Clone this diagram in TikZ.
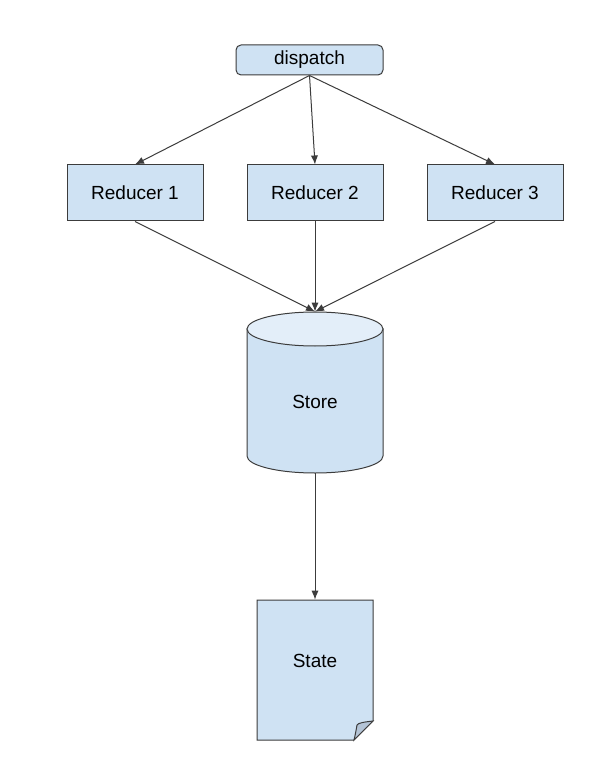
\documentclass[tikz,border=0pt]{standalone}
\usepackage{fontspec}
\setmainfont{Liberation Sans}
\usetikzlibrary{calc,arrows.meta}
\definecolor{boxBlue}{HTML}{CFE2F3}
\definecolor{capBlue}{HTML}{E3EEF9}
\definecolor{foldBlue}{HTML}{B4C4D6}
\definecolor{edgeGray}{HTML}{3C3C3C}

\tikzset{
  flowbox/.style={draw=edgeGray,fill=boxBlue,line width=0.5pt,minimum width=68pt,minimum height=28pt,inner sep=0pt,font=\fontsize{9.5}{11}\selectfont},
  flowarrow/.style={draw=edgeGray,line width=0.5pt,-{Latex[length=4.5pt,width=3.6pt]}}
}

\begin{document}
\begin{tikzpicture}[x=0.5pt,y=-0.5pt]
\useasboundingbox[fill=white] (0,0) rectangle (606,774);

\node[flowbox,rounded corners=2.5pt,minimum width=73.5pt,minimum height=15pt] (dispatch) at (309.5,60) {dispatch};
\node[flowbox] (reducerA) at (135,193) {Reducer 1};
\node[flowbox] (reducerB) at (315,193) {Reducer 2};
\node[flowbox] (reducerC) at (495,193) {Reducer 3};

% store cylinder
\node[minimum width=68pt,minimum height=80.5pt,inner sep=0pt] (store) at (315,392.5) {};
\filldraw[fill=boxBlue,draw=edgeGray,line width=0.5pt] (247,329) -- (247,456) arc[start angle=180,end angle=360,x radius=34pt,y radius=8.5pt] -- (383,329) -- cycle;
\filldraw[fill=capBlue,draw=edgeGray,line width=0.5pt] (315,329) ellipse[x radius=34pt,y radius=8.5pt];
\node[font=\fontsize{9.5}{11}\selectfont] (storetext) at (315,402) {Store};

% state document
\node[minimum width=58pt,minimum height=70pt,inner sep=0pt] (state) at (315,670) {};
\filldraw[fill=boxBlue,draw=edgeGray,line width=0.5pt] (257,600) -- (373,600) -- (373,721) -- (354,740) -- (257,740) -- cycle;
\filldraw[fill=foldBlue,draw=edgeGray,line width=0.5pt] (373,721) .. controls (364,722) and (358,723) .. (357,725) .. controls (356,731) and (355,736) .. (354,740) -- cycle;
\node[font=\fontsize{9.5}{11}\selectfont] (statetext) at (315,661) {State};

\draw[flowarrow] (dispatch.south) -- (reducerA.north);
\draw[flowarrow] (dispatch.south) -- (reducerB.north);
\draw[flowarrow] (dispatch.south) -- (reducerC.north);
\draw[flowarrow] (reducerA.south) -- (store.north);
\draw[flowarrow] (reducerB.south) -- (store.north);
\draw[flowarrow] (reducerC.south) -- (store.north);
\draw[flowarrow] (store.south) -- (state.north);
\end{tikzpicture}
\end{document}
